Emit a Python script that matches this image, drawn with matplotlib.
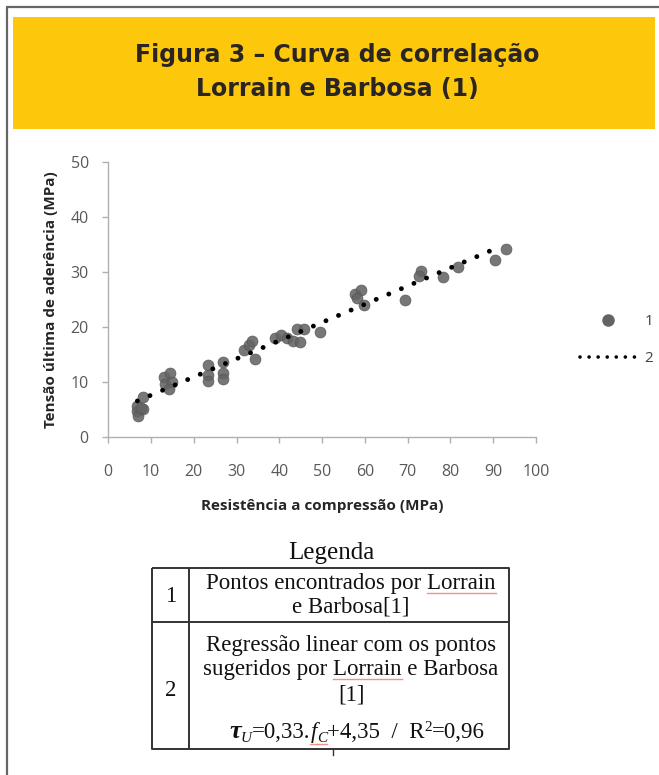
import numpy as np
import matplotlib
matplotlib.use("Agg")
import matplotlib.pyplot as plt
from matplotlib.lines import Line2D
from matplotlib.patches import Rectangle
from matplotlib.font_manager import FontProperties

# Lorrain e Barbosa: resistência à compressão x tensão última de aderência
fc = [6.6, 7.0, 8.2, 6.6, 8.2, 7.6,
      13.0, 14.4, 13.2, 15.0, 14.2,
      23.4, 23.4, 23.4, 26.9, 26.9, 26.9,
      31.7, 33.0, 33.5, 34.3,
      39.0, 40.3, 41.7, 43.3, 44.8, 44.2, 45.8, 49.5,
      57.7, 59.2, 58.1, 59.8, 69.4,
      73.1, 72.7, 78.2, 81.8, 90.5, 93.1]
tau = [4.7, 3.9, 5.1, 5.6, 7.4, 5.3,
       11.0, 11.7, 9.7, 10.1, 8.7,
       13.2, 11.3, 10.2, 13.7, 11.6, 10.5,
       15.9, 16.8, 17.5, 14.2,
       18.0, 18.6, 18.1, 17.5, 17.2, 19.6, 19.6, 19.1,
       26.0, 26.7, 25.2, 24.0, 25.0,
       30.2, 29.3, 29.0, 30.9, 32.2, 34.1]

# regressão linear: tau_u = 0,33 fc + 4,35
coef_a = 0.33
coef_b = 4.35
fc_reg = [6.8, 92.0]

x_ticks = [0, 10, 20, 30, 40, 50, 60, 70, 80, 90, 100]
y_ticks = [0, 10, 20, 30, 40, 50]

W, H = 659, 775
fig = plt.figure(figsize=(W / 100, H / 100), dpi=100)
renderer = fig.canvas.get_renderer()

# camada de fundo em pixels (moldura, faixa do título e tabela)
bg = fig.add_axes([0, 0, 1, 1])
bg.set_xlim(0, W)
bg.set_ylim(H, 0)
bg.axis("off")

bg.plot([6.5, 6.5], [7, H], color="#666666", lw=1.6, solid_capstyle="butt")
bg.plot([6, W], [7, 7], color="#666666", lw=1.6, solid_capstyle="butt")
bg.add_patch(Rectangle((13, 17), 642, 112, facecolor="#FDC80C", edgecolor="none"))

title_font = dict(family="DejaVu Sans", fontweight="bold", color="#2a2522", fontsize=17)
bg.text(337, 55, "Figura 3 – Curva de correlação", ha="center", va="center", **title_font)
bg.text(337, 89, "Lorrain e Barbosa (1)", ha="center", va="center", **title_font)

# gráfico de dispersão
ax = fig.add_axes([108.3 / W, 1 - 437.3 / H, 427.7 / W, 275.6 / H])
ax.scatter(fc, tau, s=62, color="#646464", edgecolors="#555555", linewidths=0.5,
           alpha=0.88, zorder=2)
x_reg = np.array(fc_reg)
ax.plot(x_reg, coef_a * x_reg + coef_b, color="black", lw=3.5,
        dashes=(0.01, 2.8), dash_capstyle="round", zorder=3)

ax.set_xlim(0, 100)
ax.set_ylim(0, 50)
ax.set_xticks(x_ticks)
ax.set_yticks(y_ticks)
for s in ["top", "right"]:
    ax.spines[s].set_visible(False)
for s in ["left", "bottom"]:
    ax.spines[s].set_color("#b0b0b0")
    ax.spines[s].set_linewidth(1.0)
ax.tick_params(direction="out", length=4, width=1, color="#b0b0b0",
               labelcolor="#595959", labelsize=11.5)
ax.tick_params(axis="x", pad=15)
ax.tick_params(axis="y", pad=10)
for lab in ax.get_xticklabels() + ax.get_yticklabels():
    lab.set_family("Open Sans")

ax.set_xlabel("Resistência a compressão (MPa)", family="Open Sans", fontweight="bold",
              fontsize=11, color="#262626", labelpad=14)
ax.set_ylabel("Tensão última de aderência (MPa)", family="Open Sans", fontweight="bold",
              fontsize=11, color="#262626", labelpad=9)

handles = [
    Line2D([], [], ls="none", marker="o", ms=8, color="#646464"),
    Line2D([], [], color="black", lw=2.6, dashes=(0.01, 2.5), dash_capstyle="round"),
]
leg = fig.legend(handles, ["1", "2"], loc="center left",
                 bbox_to_anchor=(580 / W, 1 - 340 / H), frameon=False,
                 handlelength=3.6, handletextpad=0.6, labelspacing=1.45,
                 borderpad=0, borderaxespad=0,
                 prop=FontProperties(family="Open Sans", size=11))
for t in leg.get_texts():
    t.set_color("#404040")

# tabela de legenda
line_kw = dict(color="#333333", lw=1.4, solid_capstyle="butt")
tx0, tx1, tcol = 152, 509, 189
ty0, ymid, ty1 = 568, 622, 749
bg.plot([tx0, tx1, tx1, tx0, tx0], [ty0, ty0, ty1, ty1, ty0], **line_kw)
bg.plot([tx0, tx1], [ymid, ymid], **line_kw)
bg.plot([tcol, tcol], [ty0, ty1], **line_kw)
bg.plot([333, 333], [749, 755], color="#333333", lw=1)

normal = FontProperties(family="Liberation Serif", size=16.5)
ital = FontProperties(family="Liberation Serif", style="italic", size=16.5)
ital_small = FontProperties(family="Liberation Serif", style="italic", size=11)
bold_ital = FontProperties(family="Liberation Serif", style="italic", weight="bold", size=19)
small = FontProperties(family="Liberation Serif", size=11)
ink = "#111111"
red_kw = dict(color="#e8836f", lw=1.0, alpha=0.85)

bg.text(331, 553, "Legenda", ha="center", va="center", color=ink,
        fontproperties=FontProperties(family="Liberation Serif", size=18))
bg.text(171, 596, "1", ha="center", va="center", color=ink, fontproperties=normal)
bg.text(171, 690, "2", ha="center", va="center", color=ink, fontproperties=normal)


def text_width(s, fp):
    t = bg.text(0, 0, s, fontproperties=fp)
    w = t.get_window_extent(renderer).width
    t.remove()
    return w


def row_text(y, s, word=None):
    bg.text(351, y, s, ha="center", va="baseline", color=ink, fontproperties=normal)
    if word:
        # sublinhado do corretor ortográfico sob a palavra
        full = text_width(s, normal)
        start = 351 - full / 2 + text_width(s[:s.index(word)], normal)
        bg.plot([start, start + text_width(word, normal)], [y + 4, y + 4], **red_kw)


row_text(589, "Pontos encontrados por Lorrain", "Lorrain")
row_text(612, "e Barbosa[1]")
row_text(651, "Regressão linear com os pontos")
row_text(675, "sugeridos por Lorrain e Barbosa", "Lorrain")
row_text(700, "[1]")

# linha da equação montada por partes
pieces = [("τ", bold_ital, 0), ("U", ital_small, 4), ("=0,33.", normal, 0),
          ("f", ital, 0), ("C", ital_small, 4), ("+4,35  /  R", normal, 0),
          ("2", small, -7), ("=0,96", normal, 0)]
base_y = 738
items = []
total = 0
for txt, fp, dy in pieces:
    t = bg.text(0, base_y + dy, txt, fontproperties=fp, color=ink,
                ha="left", va="baseline")
    w = t.get_window_extent(renderer).width
    items.append((t, w))
    total += w
x = 357 - total / 2
for i, (t, w) in enumerate(items):
    t.set_x(x)
    if pieces[i][0] in ("f", "C"):
        bg.plot([x, x + w], [base_y + 6, base_y + 6], **red_kw)
    x += w

fig.savefig("out.png", dpi=100)
